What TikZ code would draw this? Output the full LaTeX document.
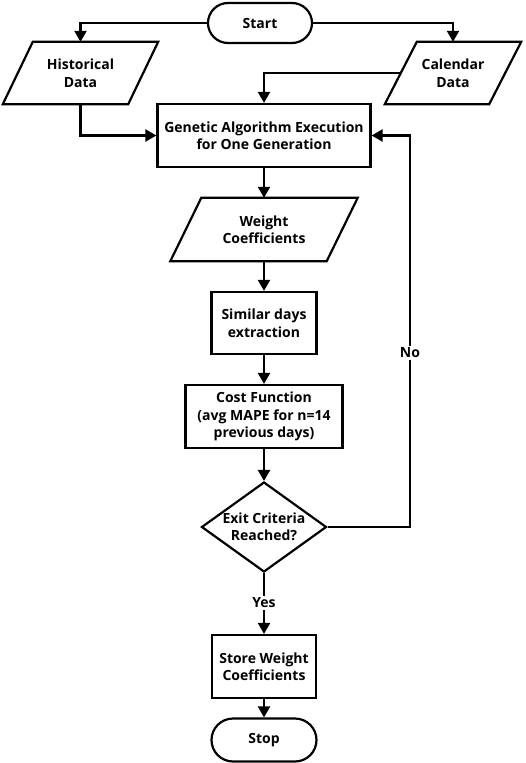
\documentclass[tikz,border=0pt]{standalone}
\usepackage{fontspec}
\setmainfont{Open Sans}
\usetikzlibrary{arrows.meta,shapes.geometric,shapes.misc}
\begin{document}
\begin{tikzpicture}[x=1pt,y=-1pt,
  every node/.style={font=\fontsize{14}{17.5}\selectfont\bfseries, align=center, inner sep=0pt},
  box/.style={draw, line width=2.2pt, rectangle},
  term/.style={draw, line width=2.2pt, rounded rectangle},
  io/.style={rectangle, draw=none},
  flow/.style={line width=2.2pt, -{Triangle[length=11pt,width=12pt]}},
  lbl/.style={fill=white, inner sep=2pt},
  iopath/.style={line width=2.2pt, line join=miter}]
\useasboundingbox (0,0) rectangle (526,763);

\node[term, minimum width=104pt, minimum height=40pt] (start) at (260,23) {Start};
\node[io, minimum width=125pt, minimum height=62pt] (hist) at (80.5,73) {Historical\\Data};
\node[io, minimum width=104pt, minimum height=62pt] (cal) at (453,73) {Calendar\\Data};
\node[box, minimum width=213pt, minimum height=63pt] (ga) at (264,135.5) {Genetic Algorithm Execution\\for One Generation};
\node[io, minimum width=156pt, minimum height=63pt] (w) at (264,229.5) {Weight\\Coefficients};
\node[box, minimum width=105pt, minimum height=62pt] (sim) at (264,323) {Similar days\\extraction};
\node[box, minimum width=157pt, minimum height=63pt] (cost) at (264,416.5) {Cost Function\\(avg MAPE for n=14\\previous days)};
\node[diamond, draw, line width=2.2pt, minimum width=125pt, minimum height=90pt, label={[inner sep=0pt]center:Exit Criteria\\Reached?}] (dia) at (264,527) {};
\node[box, minimum width=104pt, minimum height=63pt] (store) at (264,666.5) {Store Weight\\Coefficients};
\node[term, minimum width=105pt, minimum height=43pt] (stop) at (264,740) {Stop};

\draw[iopath] ([xshift=15pt]hist.north west) -- ([xshift=15pt]hist.north east) -- ([xshift=-15pt]hist.south east) -- ([xshift=-15pt]hist.south west) -- cycle;
\draw[iopath] ([xshift=16pt]cal.north west) -- ([xshift=16pt]cal.north east) -- ([xshift=-16pt]cal.south east) -- ([xshift=-16pt]cal.south west) -- cycle;
\draw[iopath] ([xshift=15.5pt]w.north west) -- ([xshift=15.5pt]w.north east) -- ([xshift=-15.5pt]w.south east) -- ([xshift=-15.5pt]w.south west) -- cycle;

\coordinate (loop) at (410,135.5);

\draw[flow] (start.west) -| (hist.north);
\draw[flow] (start.east) -| (cal.north);
\draw[flow] (hist.south) |- (ga.west);
\draw[flow] (cal.west) -| (ga.north);
\draw[flow] (ga.south) -- (w.north);
\draw[flow] (w.south) -- (sim.north);
\draw[flow] (sim.south) -- (cost.north);
\draw[flow] (cost.south) -- (dia.north);
\draw[flow] (dia.east) -| (loop) -- (ga.east);
\node[lbl] (no) at (410,353) {No};
\draw[flow] (dia.south) -- (store.north);
\node[lbl] (yes) at (264,603) {Yes};
\draw[flow] (store.south) -- (stop.north);
\end{tikzpicture}
\end{document}
